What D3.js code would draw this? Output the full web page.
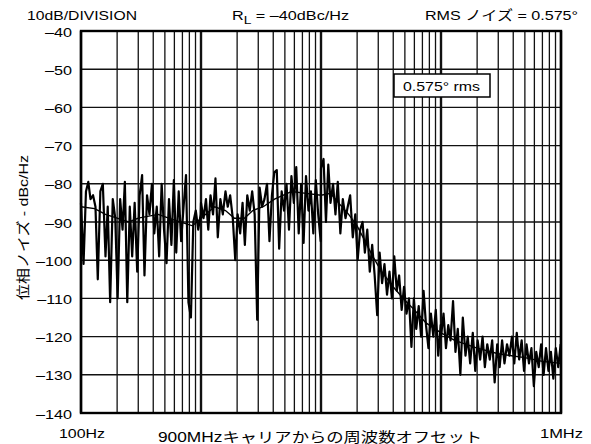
<!DOCTYPE html>
<html><head><meta charset="utf-8">
<script src="https://cdn.jsdelivr.net/npm/d3@7"></script>
<style>
body{margin:0;background:#fff;}
text{font-family:"Liberation Sans",Arial,"Noto Sans CJK JP",sans-serif;fill:#000;}
</style></head><body>
<svg id="c" width="591" height="444"></svg>
<script>
const yTicks = [-40,-50,-60,-70,-80,-90,-100,-110,-120,-130,-140];
const yTickLabels = ["–40","–50","–60","–70","–80","–90","–100","–110","–120","–130","–140"];
const xDomain = [100, 1000000];
const xEndLabels = ["100Hz","1MHz"];

const noisyTrace = [
[100,-85],[105,-101],[110,-82],[115,-79.5],[120,-84],[126,-83],[132,-86],[138,-105],[145,-82],[152,-80],
[160,-99],[167,-86],[175,-111],[184,-84],[193,-89],[202,-110],[212,-84],[222,-92],[232,-79.5],[243,-111],
[255,-86],[267,-99],[280,-85],[294,-103],[308,-83],[323,-77.7],[338,-104],[355,-83],[372,-88],[390,-80],
[408,-93],[428,-86],[448,-99],[470,-80],[492,-92],[516,-100.8],[541,-84],[567,-96],[594,-79],[622,-98],
[652,-82],[683,-95],[716,-86],[750,-77.7],[786,-111],[824,-115],[863,-90],[905,-87],[948,-92],[994,-88],
[1000,-85],[1050,-89],[1100,-84],[1150,-92],[1200,-83],[1260,-88],[1320,-78.6],[1380,-94],[1450,-84],[1520,-88],
[1600,-82],[1670,-86],[1750,-83],[1840,-89],[1930,-100],[2020,-88],[2120,-93],[2220,-85],[2320,-96],[2430,-83],
[2550,-87],[2670,-82],[2800,-88],[2940,-115.6],[3080,-81],[3230,-86],[3380,-84],[3550,-80],[3720,-95],[3900,-83],
[4080,-77],[4280,-76.4],[4480,-97],[4700,-82],[4920,-87],[5160,-80],[5410,-92],[5670,-78],[5940,-85],[6220,-75.6],
[6520,-93],[6830,-80],[7160,-95.5],[7500,-78],[7860,-87],[8240,-82],[8630,-93],[9050,-79],[9480,-88],[9940,-95],
[10000,-76],[10500,-73.5],[11000,-90],[11500,-75],[12000,-85],[12600,-80],[13200,-88],[13800,-79.5],[14500,-93],[15200,-84],
[16000,-89],[16700,-86],[17500,-83],[18400,-94],[19300,-88],[20200,-100],[21200,-92],[22200,-90],[23200,-98],[24300,-92],
[25500,-103],[26700,-96],[28000,-104],[29400,-114.4],[30800,-98],[32300,-106],[33800,-101],[35500,-109],[37200,-103],[39000,-110],
[40800,-99],[42800,-108],[44800,-104],[47000,-113],[49200,-107],[51600,-114],[54100,-110],[56700,-122.7],[59400,-110],[62200,-118],
[65200,-112],[68300,-120],[71600,-108],[75000,-117],[78600,-123],[82400,-114],[86300,-120],[90500,-113],[94800,-125],[99400,-117],
[100000,-120],[105000,-114],[110000,-123],[115000,-117],[120000,-121],[126000,-110.7],[132000,-124],[138000,-118],[145000,-130],[152000,-115],
[160000,-125],[167000,-120],[175000,-127],[184000,-119],[193000,-129],[202000,-121],[212000,-126],[222000,-120],[232000,-128],[243000,-122],
[255000,-126],[267000,-121],[280000,-132],[294000,-122],[308000,-128],[323000,-121],[338000,-127],[355000,-122],[372000,-125],[390000,-120],
[408000,-127],[428000,-119],[448000,-126],[470000,-121],[492000,-129],[516000,-122],[541000,-127],[567000,-123],[594000,-133],[622000,-124],
[652000,-128],[683000,-122],[716000,-130],[750000,-123],[786000,-129],[824000,-124],[863000,-131],[905000,-123],[948000,-128],[994000,-122]
];

const smoothTrace = [
[100,-86],[130,-86.5],[160,-88],[200,-89],[250,-90],[300,-89],[440,-88],[600,-89.5],[850,-91],[1000,-89],
[1300,-86],[1600,-87],[1900,-89],[2300,-89],[2700,-87],[3300,-86],[4100,-84],[5700,-82],[7500,-82.5],[10000,-83],
[12000,-82.5],[14000,-85],[17000,-88],[20000,-91],[23000,-94.7],[27000,-99],[32000,-103],[40000,-107],[50000,-110.5],[60000,-113],
[75000,-116.4],[100000,-119],[130000,-121],[200000,-123],[300000,-124.5],[500000,-125.5],[700000,-126.5],[1000000,-127]
];

const svg = d3.select("#c");
const x = d3.scaleLog().domain(xDomain).range([81, 561]);
const y = d3.scaleLinear().domain([-140, -40]).range([413, 31]);

// vertical grid
const vt = x.ticks();
svg.append("g").selectAll("line").data(vt).join("line")
  .attr("x1", d => x(d)).attr("x2", d => x(d)).attr("y1", y(-40)).attr("y2", y(-140))
  .attr("stroke", "#111")
  .attr("stroke-width", d => Math.abs(Math.log10(d) - Math.round(Math.log10(d))) < 1e-9 ? 2.4 : 1.3);
// horizontal grid
svg.append("g").selectAll("line").data(yTicks).join("line")
  .attr("x1", x(xDomain[0])).attr("x2", x(xDomain[1])).attr("y1", d => y(d)).attr("y2", d => y(d))
  .attr("stroke", "#111").attr("stroke-width", 1.4);

// frame
svg.append("rect").attr("x", x(xDomain[0])).attr("y", y(-40))
  .attr("width", x(xDomain[1]) - x(xDomain[0])).attr("height", y(-140) - y(-40))
  .attr("fill", "none").attr("stroke", "#000").attr("stroke-width", 2.4);

// traces
const line = d3.line().x(d => x(d[0])).y(d => y(d[1]));
svg.append("path").datum(smoothTrace).attr("d", line)
  .attr("fill", "none").attr("stroke", "#000").attr("stroke-width", 1.4);
svg.append("path").datum(noisyTrace).attr("d", line)
  .attr("fill", "none").attr("stroke", "#000").attr("stroke-width", 2.2).attr("stroke-linejoin", "round");

// stretched text helper: glyphs widened horizontally to match target width
function fitText(tx, ty, w, str, size) {
  return svg.append("text").attr("x", tx).attr("y", ty).attr("font-size", size)
    .attr("textLength", w).attr("lengthAdjust", "spacingAndGlyphs").text(str);
}

// y tick labels (stretched 1.2x horizontally, right aligned)
svg.append("g").selectAll("text").data(yTicks).join("text")
  .attr("transform", d => `translate(72,${y(d)}) scale(1.2,1)`)
  .attr("dy", "0.42em")
  .attr("text-anchor", "end").attr("font-size", 13.5)
  .text((d, i) => yTickLabels[i]);

// x end labels
fitText(59, 438, 46, xEndLabels[0], 13.5);
fitText(540, 438, 43, xEndLabels[1], 13.5);

// axis titles
fitText(158, 442, 324, "900MHzキャリアからの周波数オフセット", 14);
svg.append("text").attr("transform", "translate(28,300) rotate(-90)")
  .attr("font-size", 13.5).attr("textLength", 145).attr("lengthAdjust", "spacingAndGlyphs")
  .text("位相ノイズ - dBc/Hz");

// top texts
fitText(27, 20, 110, "10dB/DIVISION", 13.5);
const rl = svg.append("text").attr("transform", "translate(232,20) scale(1.2,1)").attr("font-size", 13.5);
rl.append("tspan").text("R");
rl.append("tspan").attr("dy", 4).attr("font-size", 11.5).text("L");
rl.append("tspan").attr("dy", -4).text(" = –40dBc/Hz");
fitText(425, 20, 153, "RMS ノイズ = 0.575°", 13.5);

// inset box
svg.append("rect").attr("x", 394).attr("y", 74).attr("width", 96).attr("height", 23)
  .attr("fill", "#fff").attr("stroke", "#000").attr("stroke-width", 1.5);
fitText(403, 91, 77, "0.575° rms", 13.5);
</script>
</body></html>
